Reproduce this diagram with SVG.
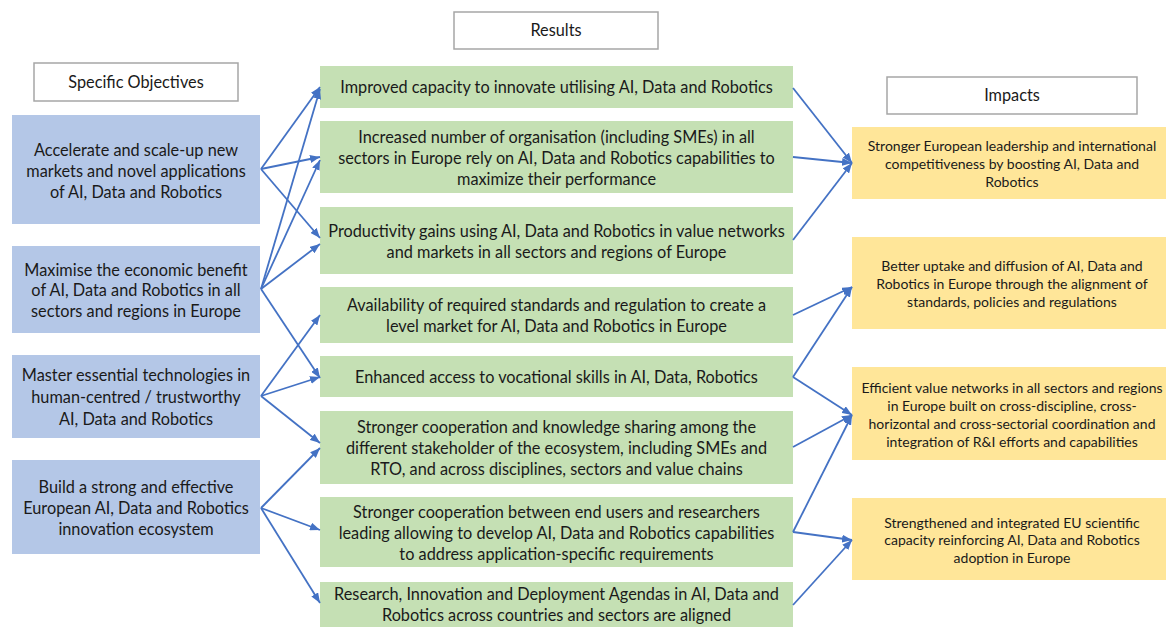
<svg xmlns="http://www.w3.org/2000/svg" width="1166" height="627" viewBox="0 0 1166 627">
<defs>
<marker id="ah" viewBox="0 0 10 8" refX="10" refY="4" markerWidth="10" markerHeight="8" markerUnits="userSpaceOnUse" orient="auto">
<path d="M0,0 L10,4 L0,8 z" fill="#4472c4"/>
</marker>
<style>
.hdr{fill:#fff;stroke:#a6a6a6;stroke-width:1.5}
.obj{fill:#b4c7e7}
.res{fill:#c5e0b4}
.imp{fill:#ffe699}
text{font-family:Lato,"Open Sans","Liberation Sans",sans-serif;fill:#1a1a1a;text-anchor:middle}
.t{font-size:16.3px}
.s{font-size:14px}
.c line{stroke:#4472c4;stroke-width:1.8;marker-end:url(#ah)}
</style>
</defs>
<rect width="1166" height="627" fill="#fff"/>

<g id="hdr-objectives"><rect class="hdr" x="34" y="63" width="204" height="38"/><text class="t" x="136" y="88">Specific Objectives</text></g>
<g id="hdr-results"><rect class="hdr" x="454" y="12" width="204" height="37"/><text class="t" x="556" y="36">Results</text></g>
<g id="hdr-impacts"><rect class="hdr" x="887" y="77" width="250" height="37"/><text class="t" x="1012" y="101">Impacts</text></g>

<g id="obj1"><rect class="obj" x="12" y="115" width="248" height="109"/>
<text class="t"><tspan x="136" y="156">Accelerate and scale-up new</tspan><tspan x="136" y="177">markets and novel applications</tspan><tspan x="136" y="198">of AI, Data and Robotics</tspan></text></g>
<g id="obj2"><rect class="obj" x="12" y="246" width="248" height="87"/>
<text class="t"><tspan x="136" y="276">Maximise the economic benefit</tspan><tspan x="136" y="296">of AI, Data and Robotics in all</tspan><tspan x="136" y="317">sectors and regions in Europe</tspan></text></g>
<g id="obj3"><rect class="obj" x="12" y="355" width="248" height="83"/>
<text class="t"><tspan x="136" y="381">Master essential technologies in</tspan><tspan x="136" y="403">human-centred / trustworthy</tspan><tspan x="136" y="425">AI, Data and Robotics</tspan></text></g>
<g id="obj4"><rect class="obj" x="12" y="460" width="248" height="94"/>
<text class="t"><tspan x="136" y="493">Build a strong and effective</tspan><tspan x="136" y="514">European AI, Data and Robotics</tspan><tspan x="136" y="535">innovation ecosystem</tspan></text></g>

<g id="res1"><rect class="res" x="320" y="66" width="473" height="42"/>
<text class="t"><tspan x="556.5" y="93">Improved capacity to innovate utilising AI, Data and Robotics</tspan></text></g>
<g id="res2"><rect class="res" x="320" y="121" width="473" height="72"/>
<text class="t"><tspan x="556.5" y="143">Increased number of organisation (including SMEs) in all</tspan><tspan x="556.5" y="164">sectors in Europe rely on AI, Data and Robotics capabilities to</tspan><tspan x="556.5" y="185">maximize their performance</tspan></text></g>
<g id="res3"><rect class="res" x="320" y="207" width="473" height="67"/>
<text class="t"><tspan x="556.5" y="237">Productivity gains using AI, Data and Robotics in value networks</tspan><tspan x="556.5" y="258">and markets in all sectors and regions of Europe</tspan></text></g>
<g id="res4"><rect class="res" x="320" y="287" width="473" height="56"/>
<text class="t"><tspan x="556.5" y="311">Availability of required standards and regulation to create a</tspan><tspan x="556.5" y="332">level market for AI, Data and Robotics in Europe</tspan></text></g>
<g id="res5"><rect class="res" x="320" y="356" width="473" height="41"/>
<text class="t"><tspan x="556.5" y="383">Enhanced access to vocational skills in AI, Data, Robotics</tspan></text></g>
<g id="res6"><rect class="res" x="320" y="411" width="473" height="73"/>
<text class="t"><tspan x="556.5" y="433">Stronger cooperation and knowledge sharing among the</tspan><tspan x="556.5" y="454">different stakeholder of the ecosystem, including SMEs and</tspan><tspan x="556.5" y="475">RTO, and across disciplines, sectors and value chains</tspan></text></g>
<g id="res7"><rect class="res" x="320" y="497" width="473" height="70"/>
<text class="t"><tspan x="556.5" y="518">Stronger cooperation between end users and researchers</tspan><tspan x="556.5" y="539">leading allowing to develop AI, Data and Robotics capabilities</tspan><tspan x="556.5" y="560">to address application-specific requirements</tspan></text></g>
<g id="res8"><rect class="res" x="320" y="582" width="473" height="45"/>
<text class="t"><tspan x="556.5" y="600">Research, Innovation and Deployment Agendas in AI, Data and</tspan><tspan x="556.5" y="621">Robotics across countries and sectors are aligned</tspan></text></g>

<g id="imp1"><rect class="imp" x="852" y="127" width="320" height="72"/>
<text class="s"><tspan x="1012" y="151">Stronger European leadership and international</tspan><tspan x="1012" y="169">competitiveness by boosting AI, Data and</tspan><tspan x="1012" y="187">Robotics</tspan></text></g>
<g id="imp2"><rect class="imp" x="852" y="237" width="320" height="92"/>
<text class="s"><tspan x="1012" y="271">Better uptake and diffusion of AI, Data and</tspan><tspan x="1012" y="289">Robotics in Europe through the alignment of</tspan><tspan x="1012" y="307">standards, policies and regulations</tspan></text></g>
<g id="imp3"><rect class="imp" x="852" y="367" width="320" height="93"/>
<text class="s"><tspan x="1012" y="393">Efficient value networks in all sectors and regions</tspan><tspan x="1012" y="411">in Europe built on cross-discipline, cross-</tspan><tspan x="1012" y="429">horizontal and cross-sectorial coordination and</tspan><tspan x="1012" y="447">integration of R&amp;I efforts and capabilities</tspan></text></g>
<g id="imp4"><rect class="imp" x="852" y="498" width="320" height="82"/>
<text class="s"><tspan x="1012" y="528">Strengthened and integrated EU scientific</tspan><tspan x="1012" y="545">capacity reinforcing AI, Data and Robotics</tspan><tspan x="1012" y="563">adoption in Europe</tspan></text></g>

<g id="connectors" class="c">
<line x1="261" y1="169" x2="320" y2="87"/>
<line x1="261" y1="169" x2="320" y2="157"/>
<line x1="261" y1="169" x2="320" y2="238"/>
<line x1="261" y1="289" x2="320" y2="89"/>
<line x1="261" y1="289" x2="320" y2="160"/>
<line x1="261" y1="289" x2="320" y2="244"/>
<line x1="261" y1="289" x2="320" y2="378"/>
<line x1="261" y1="396" x2="320" y2="315"/>
<line x1="261" y1="396" x2="320" y2="377"/>
<line x1="261" y1="396" x2="320" y2="443"/>
<line x1="261" y1="508" x2="320" y2="448"/>
<line x1="261" y1="508" x2="320" y2="530"/>
<line x1="261" y1="508" x2="320" y2="603"/>
<line x1="793" y1="88" x2="852" y2="163"/>
<line x1="793" y1="157" x2="852" y2="163"/>
<line x1="793" y1="240" x2="852" y2="163"/>
<line x1="793" y1="315" x2="852" y2="287"/>
<line x1="793" y1="377" x2="852" y2="287"/>
<line x1="793" y1="377" x2="852" y2="415"/>
<line x1="793" y1="447" x2="852" y2="415"/>
<line x1="793" y1="532" x2="852" y2="415"/>
<line x1="793" y1="532" x2="852" y2="540"/>
<line x1="793" y1="605" x2="852" y2="540"/>
</g>
</svg>
